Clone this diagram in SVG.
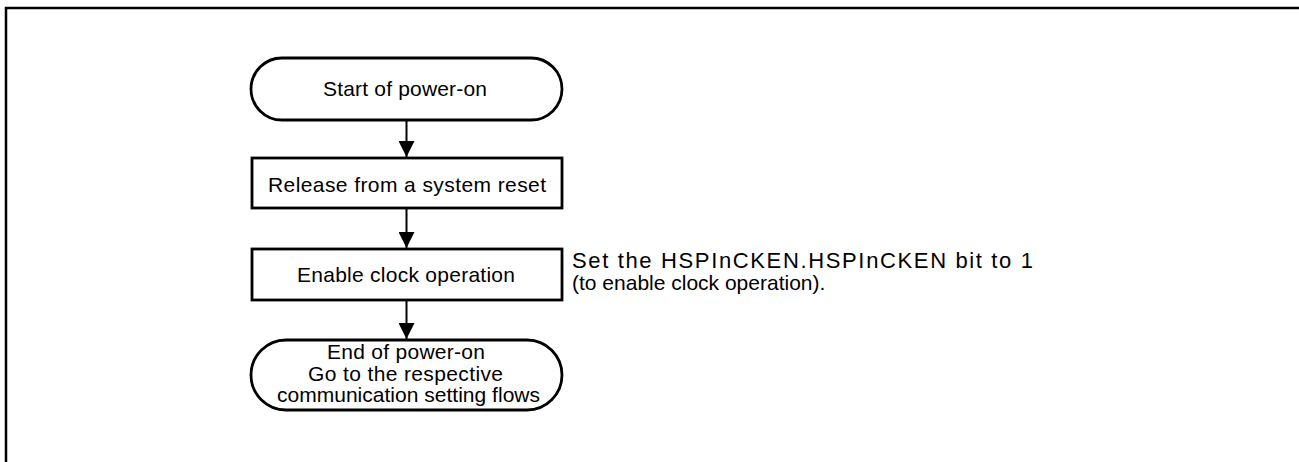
<svg xmlns="http://www.w3.org/2000/svg" width="1299" height="462" viewBox="0 0 1299 462">
<style>
.shape{fill:#fff;stroke:#000;stroke-width:2.8}
.t{font-family:"Liberation Sans",Arial,sans-serif;font-size:21px;fill:#000}
.note{font-family:"Liberation Sans",Arial,sans-serif;font-size:21px;fill:#000}
.conn{stroke:#000;stroke-width:2;fill:none}
</style>
<defs>
<marker id="arr" viewBox="0 0 10 10" refX="10" refY="5" markerWidth="16" markerHeight="16" markerUnits="userSpaceOnUse" orient="auto">
<path d="M0,0 L10,5 L0,10 Z" fill="#000"/>
</marker>
</defs>
<rect width="1299" height="462" fill="#fff"/>
<path d="M6,462 V8 H1299" fill="none" stroke="#000" stroke-width="2.5"/>
<g id="start">
<rect class="shape" x="251" y="58" width="311" height="62" rx="31" ry="31"/>
<text class="t" x="323" y="96" textLength="164" lengthAdjust="spacing">Start of power-on</text>
</g>
<g id="reset">
<rect class="shape" x="252" y="158" width="310" height="50"/>
<text class="t" x="268" y="192" textLength="278" lengthAdjust="spacing">Release from a system reset</text>
</g>
<g id="clock">
<rect class="shape" x="252" y="249" width="310" height="51"/>
<text class="t" x="297" y="282" textLength="218" lengthAdjust="spacing">Enable clock operation</text>
</g>
<g id="end">
<rect class="shape" x="251" y="340" width="311" height="70" rx="35" ry="35"/>
<text class="t" x="327" y="359" textLength="158" lengthAdjust="spacing">End of power-on</text>
<text class="t" x="308" y="381" textLength="195" lengthAdjust="spacing">Go to the respective</text>
<text class="t" x="277" y="402" textLength="263" lengthAdjust="spacing">communication setting flows</text>
</g>
<g id="note">
<text class="note" x="572" y="268" style="font-size:22px" textLength="461" lengthAdjust="spacing">Set the HSPInCKEN.HSPInCKEN bit to 1</text>
<text class="note" x="572" y="290">(to enable clock operation).</text>
</g>
<g id="connectors">
<line class="conn" x1="406.5" y1="121" x2="406.5" y2="157" marker-end="url(#arr)"/>
<line class="conn" x1="406.5" y1="209" x2="406.5" y2="248" marker-end="url(#arr)"/>
<line class="conn" x1="406.5" y1="301" x2="406.5" y2="339" marker-end="url(#arr)"/>
</g>
</svg>
